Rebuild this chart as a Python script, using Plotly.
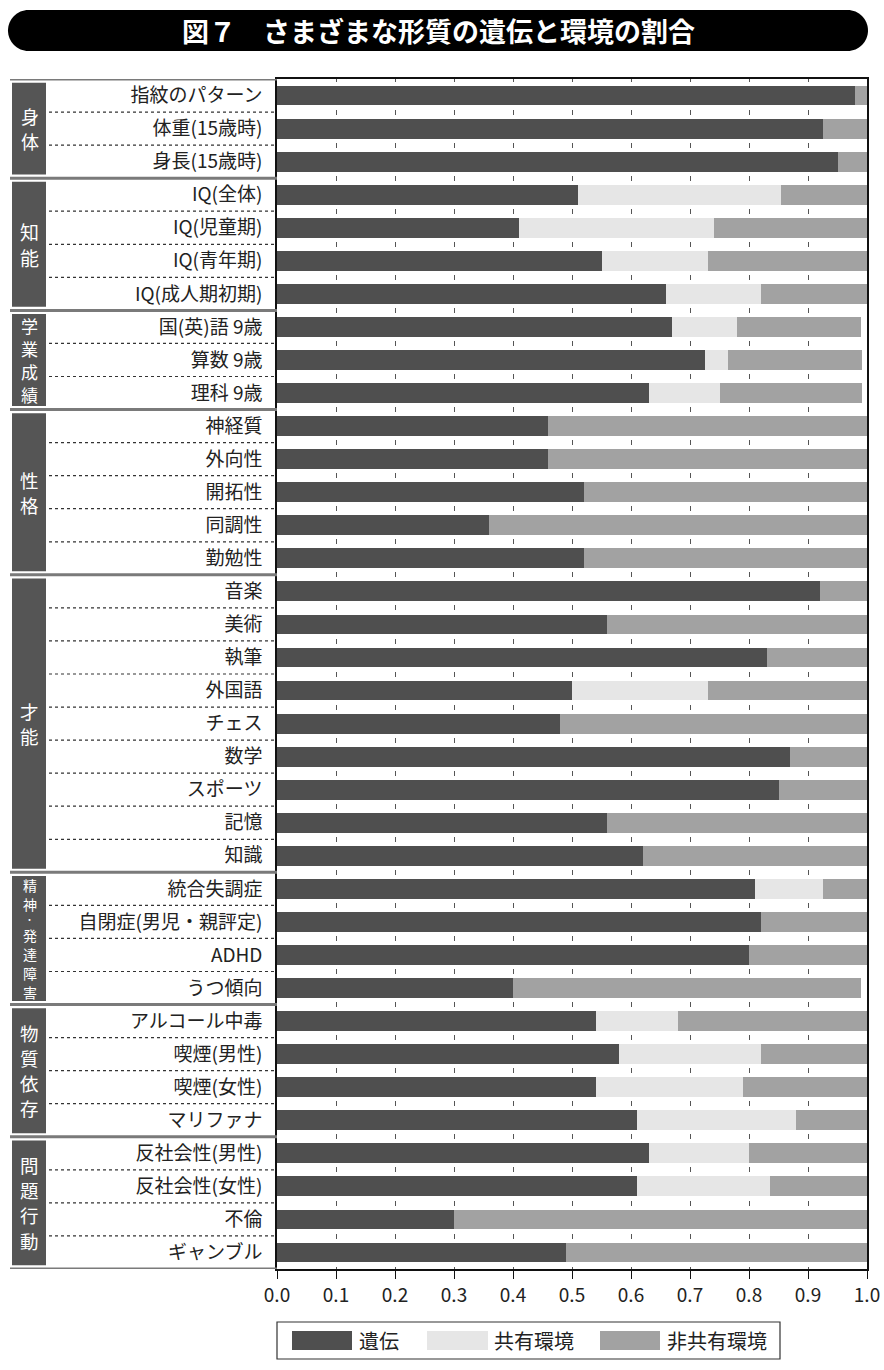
import plotly.graph_objects as go

# ---------------- data ----------------
categories = [
    "指紋のパターン", "体重(15歳時)", "身長(15歳時)",
    "IQ(全体)", "IQ(児童期)", "IQ(青年期)", "IQ(成人期初期)",
    "国(英)語 9歳", "算数 9歳", "理科 9歳",
    "神経質", "外向性", "開拓性", "同調性", "勤勉性",
    "音楽", "美術", "執筆", "外国語", "チェス", "数学", "スポーツ", "記憶", "知識",
    "統合失調症", "自閉症(男児・親評定)", "ADHD", "うつ傾向",
    "アルコール中毒", "喫煙(男性)", "喫煙(女性)", "マリファナ",
    "反社会性(男性)", "反社会性(女性)", "不倫", "ギャンブル",
]
heredity = [0.98, 0.925, 0.95,
            0.51, 0.41, 0.55, 0.66,
            0.67, 0.725, 0.63,
            0.46, 0.46, 0.52, 0.36, 0.52,
            0.92, 0.56, 0.83, 0.50, 0.48, 0.87, 0.85, 0.56, 0.62,
            0.81, 0.82, 0.80, 0.40,
            0.54, 0.58, 0.54, 0.61,
            0.63, 0.61, 0.30, 0.49]
shared_env = [0.0, 0.0, 0.0,
              0.345, 0.33, 0.18, 0.16,
              0.11, 0.04, 0.12,
              0.0, 0.0, 0.0, 0.0, 0.0,
              0.0, 0.0, 0.0, 0.23, 0.0, 0.0, 0.0, 0.0, 0.0,
              0.115, 0.0, 0.0, 0.0,
              0.14, 0.24, 0.25, 0.27,
              0.17, 0.225, 0.0, 0.0]
nonshared_env = [0.02, 0.075, 0.05,
                 0.145, 0.26, 0.27, 0.18,
                 0.21, 0.227, 0.242,
                 0.54, 0.54, 0.48, 0.64, 0.48,
                 0.08, 0.44, 0.17, 0.27, 0.52, 0.13, 0.15, 0.44, 0.38,
                 0.075, 0.18, 0.20, 0.59,
                 0.32, 0.18, 0.21, 0.12,
                 0.20, 0.165, 0.70, 0.51]
group_names = ["身体", "知能", "学業成績", "性格", "才能", "精神・発達障害", "物質依存", "問題行動"]
group_sizes = [3, 4, 3, 5, 9, 4, 4, 4]
series_names = ["遺伝", "共有環境", "非共有環境"]
x_ticks = [0.0, 0.1, 0.2, 0.3, 0.4, 0.5, 0.6, 0.7, 0.8, 0.9, 1.0]
title_text = "図７　さまざまな形質の遺伝と環境の割合"

# ---------------- style ----------------
W, H = 884, 1370
ML, MR, MT, MB = 277, 17, 79, 101
PW, PH = W - ML - MR, H - MT - MB
colors = ["#4f4f4f", "#e6e6e6", "#a2a2a2"]
JP = "Noto Sans CJK JP"
n = len(categories)
ROW = PH / n
group_glyph = [18, 19, 17, 18.5, 18.5, 14, 18.5, 18.5]
DOT_SIZE = 9
PITCH = 1.36
# grid dashes placed in the gaps between bar rows
half_dash = 2.5
grid_dash = f"{half_dash}px,{ROW - 2 * half_dash:.2f}px,{half_dash}px,0px"


def px_x(px):
    return (px - ML) / PW


def px_y(py):
    return (H - MB - py) / PH


fig = go.Figure()
for name, vals, col in zip(series_names, [heredity, shared_env, nonshared_env], colors):
    fig.add_trace(go.Bar(
        y=categories, x=vals, name=name, orientation="h",
        marker=dict(color=col, line=dict(width=0)), width=0.6,
        showlegend=False,
    ))

shapes = []
annotations = []

start = 0
for gi, (gname, gsize) in enumerate(zip(group_names, group_sizes)):
    for k in range(1, gsize):
        yb = start + k - 0.5
        shapes.append(dict(type="line", xref="paper", yref="y", x0=px_x(49), x1=0,
                           y0=yb, y1=yb, line=dict(color="#333333", width=1.2, dash="dot")))
    shapes.append(dict(type="rect", xref="paper", yref="y", x0=px_x(12), x1=px_x(46),
                       y0=start - 0.5 + 0.11, y1=start + gsize - 0.5 - 0.11,
                       fillcolor="#555555", line=dict(width=0), layer="above"))
    # stacked vertical characters
    sizes = [DOT_SIZE if ch == "・" else group_glyph[gi] for ch in gname]
    pos = [0.0]
    for a, b in zip(sizes[:-1], sizes[1:]):
        pos.append(pos[-1] + PITCH * (a + b) / 2)
    mid = (pos[0] + pos[-1]) / 2
    center = start + (gsize - 1) / 2
    for ch, fs, p in zip(gname, sizes, pos):
        annotations.append(dict(text=ch, xref="paper", yref="y", x=px_x(29.5),
                                y=center + (p - mid) / ROW, showarrow=False, borderpad=0,
                                font=dict(family=JP, size=fs, color="white"),
                                xanchor="center", yanchor="middle"))
    start += gsize

# thick group separators in the label area
bounds = [-0.5]
acc = 0
for gsize in group_sizes:
    acc += gsize
    bounds.append(acc - 0.5)
for yb in bounds:
    shapes.append(dict(type="line", xref="paper", yref="y", x0=px_x(10), x1=0,
                       y0=yb, y1=yb, line=dict(color="#7a7a7a", width=3)))

# title bar (rounded rectangle)
x0, x1, y0, y1, r = 8, 868, 10, 51, 20.5
k = 0.5523 * r
path = (
    f"M {px_x(x0 + r)} {px_y(y0)} L {px_x(x1 - r)} {px_y(y0)} "
    f"C {px_x(x1 - r + k)} {px_y(y0)} {px_x(x1)} {px_y(y0 + r - k)} {px_x(x1)} {px_y(y0 + r)} "
    f"L {px_x(x1)} {px_y(y1 - r)} "
    f"C {px_x(x1)} {px_y(y1 - r + k)} {px_x(x1 - r + k)} {px_y(y1)} {px_x(x1 - r)} {px_y(y1)} "
    f"L {px_x(x0 + r)} {px_y(y1)} "
    f"C {px_x(x0 + r - k)} {px_y(y1)} {px_x(x0)} {px_y(y1 - r + k)} {px_x(x0)} {px_y(y1 - r)} "
    f"L {px_x(x0)} {px_y(y0 + r)} "
    f"C {px_x(x0)} {px_y(y0 + r - k)} {px_x(x0 + r - k)} {px_y(y0)} {px_x(x0 + r)} {px_y(y0)} Z"
)
shapes.append(dict(type="path", xref="paper", yref="paper", path=path,
                   fillcolor="#000000", line=dict(width=0)))
annotations.append(dict(text=title_text, xref="paper", yref="paper",
                        x=px_x(438), y=px_y(31), showarrow=False,
                        font=dict(family=JP, size=27, color="white", weight=600),
                        xanchor="center", yanchor="middle"))

# legend (drawn manually to reproduce the wide swatches)
shapes.append(dict(type="rect", xref="paper", yref="paper", x0=0, x1=px_x(780),
                   y0=px_y(1359), y1=px_y(1322), fillcolor="white",
                   line=dict(color="#333333", width=1.2)))
sw = [(292, 352, 357), (427, 488, 492), (600, 660, 665)]
for (sa, sb, tx), name, col in zip(sw, series_names, colors):
    shapes.append(dict(type="rect", xref="paper", yref="paper", x0=px_x(sa), x1=px_x(sb),
                       y0=px_y(1350), y1=px_y(1331), fillcolor=col, line=dict(width=0)))
    annotations.append(dict(text=name, xref="paper", yref="paper", x=px_x(tx), y=px_y(1340.5),
                            showarrow=False, xanchor="left", yanchor="middle",
                            font=dict(family=JP, size=20, color="#222222")))

fig.update_layout(
    width=W, height=H, autosize=False,
    margin=dict(l=ML, r=MR, t=MT, b=MB, pad=0, autoexpand=False),
    barmode="stack", bargap=0.4,
    paper_bgcolor="white", plot_bgcolor="white",
    shapes=shapes, annotations=annotations,
    font=dict(family=JP, color="#222222"),
    showlegend=False,
)
fig.update_xaxes(
    range=[0, 1], tickvals=x_ticks, ticktext=[f"{v:.1f}" for v in x_ticks],
    automargin=False,
    showgrid=True, gridcolor="#555555", gridwidth=1, griddash=grid_dash,
    zeroline=False, showline=True, linecolor="#111111", linewidth=1.5, mirror=True,
    ticks="outside", ticklen=8, tickwidth=1.3, tickcolor="#111111",
    tickfont=dict(family=JP, size=19, color="#222222"),
)
fig.update_yaxes(
    type="category", categoryorder="array", categoryarray=categories,
    automargin=False,
    range=[n - 0.5, -0.5], showgrid=False, zeroline=False,
    showline=True, linecolor="#111111", linewidth=1.5, mirror=True,
    ticks="", ticklabelstandoff=9,
    tickfont=dict(family=JP, size=19, color="#222222"),
)

fig.write_html("out.html")
